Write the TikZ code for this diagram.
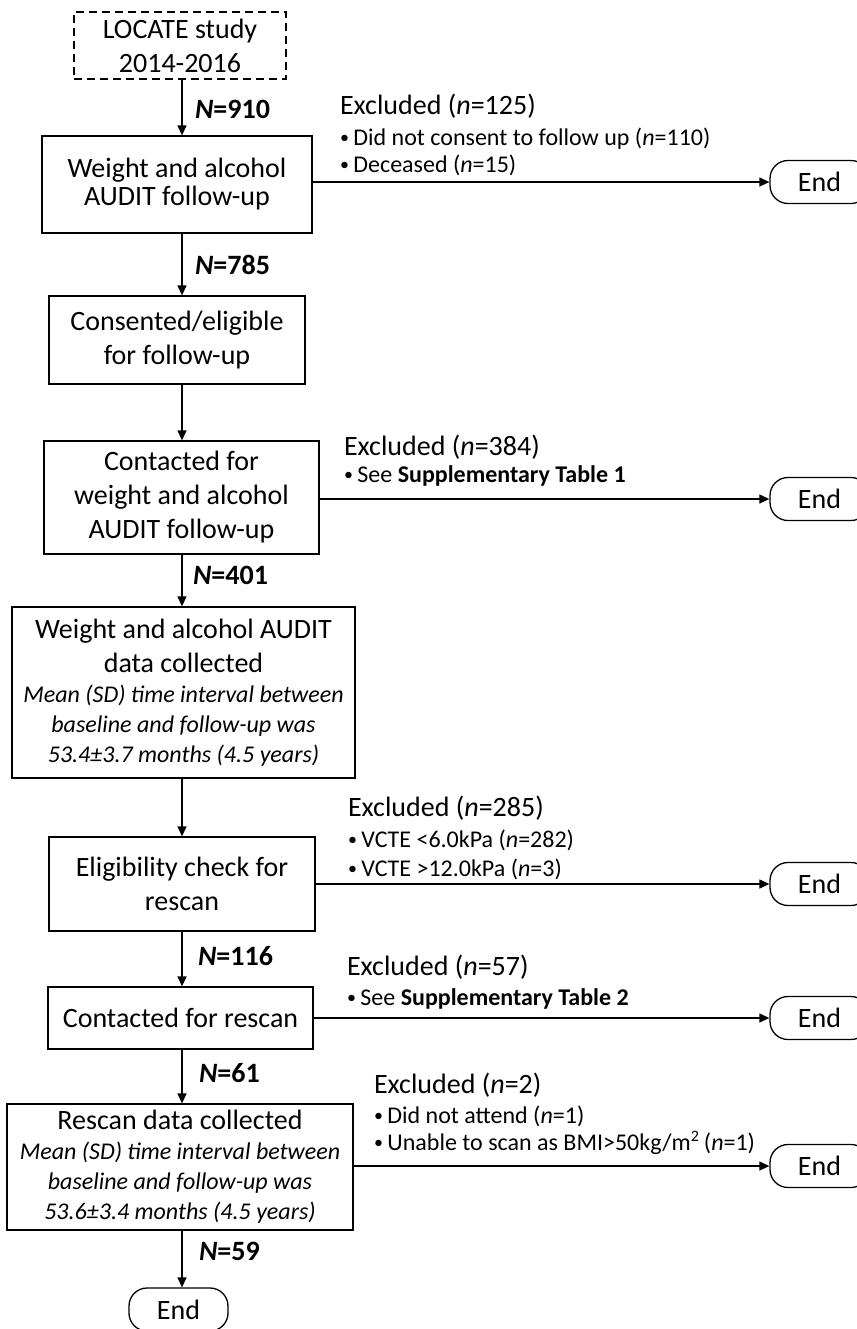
\documentclass[tikz,border=0pt]{standalone}
\usepackage{fontspec}
\setmainfont{Carlito}
\usetikzlibrary{arrows.meta,positioning}
\newcommand{\intervalfont}{\itshape\fontsize{12}{15}\selectfont}
\newcommand{\itemdot}{{\fontsize{9}{9}\selectfont\raisebox{0.8pt}{•}}\hspace{2.2pt}}

\begin{document}
\begin{tikzpicture}[x=0.5pt,y=-0.5pt,
  box/.style={draw,line width=0.65pt,align=center,inner sep=0pt,font=\fontsize{14}{17}\selectfont},
  endbox/.style={draw,line width=0.65pt,rounded corners=9pt,minimum width=49.5pt,minimum height=21.5pt,inner sep=0pt,font=\fontsize{14}{17}\selectfont},
  flow/.style={-{Triangle[length=5pt,width=4.5pt]},line width=0.65pt},
  count/.style={anchor=base west,font=\fontsize{14}{17}\selectfont\bfseries},
  exhead/.style={anchor=base west,font=\fontsize{14}{17}\selectfont},
  exitem/.style={anchor=base west,font=\fontsize{12}{14}\selectfont}]
  \clip (0,0) rectangle (857,1329);
  \coordinate (spine) at (182,0);
  % main column
  \node[box,dash pattern=on 4pt off 2.5pt,minimum width=106pt,minimum height=33.5pt] (b0) at (180,45.5) {LOCATE study\\2014-2016};
  \node[box,minimum width=135pt,minimum height=48.5pt] (b1) at (177,184.5) {Weight and alcohol\\[-3pt]AUDIT follow-up};
  \node[box,minimum width=128pt,minimum height=44pt] (b2) at (177,340) {Consented/eligible\\for follow-up};
  \node[box,minimum width=137.5pt,minimum height=56.5pt] (b3) at (181.5,497.5) {Contacted for\\weight and alcohol\\AUDIT follow-up};
  \node[box,minimum width=171.5pt,minimum height=85.5pt] (b4) at (183.5,692.5) {Weight and alcohol AUDIT\\data collected\\[-2pt]{\intervalfont Mean (SD) time interval between}\\[-2pt]{\intervalfont baseline and follow-up was}\\[-2pt]{\intervalfont 53.4±3.7 months (4.5 years)}};
  \node[box,minimum width=133pt,minimum height=47pt] (b5) at (182,884) {Eligibility check for\\rescan};
  \node[box,minimum width=132.5pt,minimum height=31pt] (b6) at (180.5,1018) {Contacted for rescan};
  \node[box,minimum width=173pt,minimum height=63pt] (b7) at (180,1167) {Rescan data collected\\[-2pt]{\intervalfont Mean (SD) time interval between}\\[-2pt]{\intervalfont baseline and follow-up was}\\[-2pt]{\intervalfont 53.6±3.4 months (4.5 years)}};
  \node[endbox] (e0) at (178.5,1309.5) {End};
  % exits
  \node[endbox] (e1) at (819.5,182) {End};
  \node[endbox] (e2) at (819.5,499) {End};
  \node[endbox] (e3) at (819.5,884) {End};
  \node[endbox] (e4) at (819.5,1018) {End};
  \node[endbox] (e5) at (819.5,1166) {End};
  % flow arrows
  \draw[flow] (b0.south -| spine) -- (b1.north -| spine);
  \draw[flow] (b1.south -| spine) -- (b2.north -| spine);
  \draw[flow] (b2.south -| spine) -- (b3.north -| spine);
  \draw[flow] (b3.south -| spine) -- (b4.north -| spine);
  \draw[flow] (b4.south -| spine) -- (b5.north -| spine);
  \draw[flow] (b5.south -| spine) -- (b6.north -| spine);
  \draw[flow] (b6.south -| spine) -- (b7.north -| spine);
  \draw[flow] (b7.south -| spine) -- (e0.north -| spine);
  \draw[flow] (b1.east |- e1) -- (e1.west);
  \draw[flow] (b3.east |- e2) -- (e2.west);
  \draw[flow] (b5.east |- e3) -- (e3.west);
  \draw[flow] (b6.east |- e4) -- (e4.west);
  \draw[flow] (b7.east |- e5) -- (e5.west);
  % counts
  \node[count] (n1) at (188,118) {\textit{N}=910};
  \node[count] (n2) at (188,274) {\textit{N}=785};
  \node[count] (n3) at (186,584) {\textit{N}=401};
  \node[count] (n4) at (191,965) {\textit{N}=116};
  \node[count] (n5) at (192,1082) {\textit{N}=61};
  \node[count] (n6) at (192,1260) {\textit{N}=59};
  % exclusions
  \node[exhead] (x1) at (333,114) {Excluded (\textit{n}=125)};
  \node[exitem] (x1a) at (333,145) {\itemdot Did not consent to follow up (\textit{n}=110)};
  \node[exitem] (x1b) at (333,172) {\itemdot Deceased (\textit{n}=15)};
  \node[exhead] (x2) at (337,455) {Excluded (\textit{n}=384)};
  \node[exitem] (x2a) at (337,482) {\itemdot See \textbf{Supplementary Table 1}};
  \node[exhead] (x3) at (341,816) {Excluded (\textit{n}=285)};
  \node[exitem] (x3a) at (341,847) {\itemdot VCTE <6.0kPa (\textit{n}=282)};
  \node[exitem] (x3b) at (341,876) {\itemdot VCTE >12.0kPa (\textit{n}=3)};
  \node[exhead] (x4) at (340,975) {Excluded (\textit{n}=57)};
  \node[exitem] (x4a) at (340,1005) {\itemdot See \textbf{Supplementary Table 2}};
  \node[exhead] (x5) at (367,1093) {Excluded (\textit{n}=2)};
  \node[exitem] (x5a) at (367,1123) {\itemdot Did not attend (\textit{n}=1)};
  \node[exitem] (x5b) at (367,1150) {\itemdot Unable to scan as BMI>50kg/m\textsuperscript{2}\,(\textit{n}=1)};
\end{tikzpicture}
\end{document}
